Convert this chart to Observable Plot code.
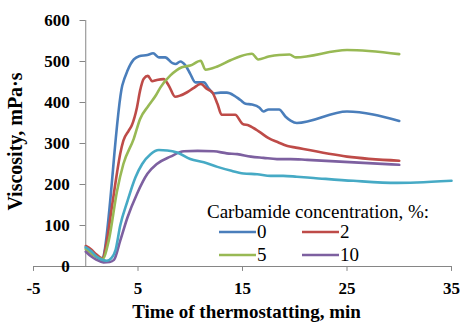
<!DOCTYPE html>
<html>
<head>
<meta charset="utf-8">
<script src="https://cdn.jsdelivr.net/npm/d3@7"></script>
<script src="https://cdn.jsdelivr.net/npm/@observablehq/plot@0.6"></script>
<style>
  html, body { margin: 0; padding: 0; background: #fff; }
  #chart { width: 461px; height: 324px; }
</style>
</head>
<body>
<div id="chart"></div>
<script>
// ---- data (time, min ; viscosity, mPa·s) ----
const conc0 = [[0,45],[0.5,35],[1.0,25],[1.5,18],[3.5,442],[4.0,478],[4.6,505],[5.1,513],[5.9,516],[6.45,520],[7.0,510],[7.6,510],[8.3,496],[8.6,494],[9.05,500],[9.55,490],[10.0,470],[10.5,449],[11.3,449],[11.8,433],[12.25,422],[12.9,424],[13.5,424],[14.2,417],[14.8,406],[15.3,397],[15.9,395],[16.6,388],[17.0,378],[17.5,383],[18.5,383],[19.1,366],[19.6,356],[20.2,350],[25,378],[30,355]];
const conc2 = [[0,50],[0.5,42],[1.0,30],[1.6,20],[2.0,60],[2.5,145],[3.0,230],[3.3,275],[3.6,307],[4.1,331],[4.4,344],[4.9,388],[5.2,429],[5.55,458],[5.95,465],[6.35,452],[6.8,455],[7.45,457],[7.95,441],[8.55,414],[9.05,417],[9.7,425],[10.3,435],[11.0,445],[11.6,433],[12.1,425],[12.6,397],[13.0,370],[14.3,370],[15.0,348],[15.6,344],[16.7,327],[17.5,313],[18.4,303],[19.3,294],[20.1,290],[25,268],[30,258]];
const conc5 = [[0,42],[0.6,30],[1.6,18],[2.2,63],[3.0,185],[3.6,250],[4.6,312],[5.2,360],[6.0,392],[6.7,417],[7.15,437],[8.1,466],[9.2,486],[10.0,490],[11.0,502],[11.45,480],[12.6,488],[13.85,503],[14.8,513],[15.9,519],[16.5,505],[17.5,512],[18.5,516],[19.5,517],[20.1,510],[25,528],[30,518]];
const conc10 = [[0,36],[0.5,25],[1.0,17],[1.7,10],[2.3,11],[2.7,16],[3.3,63],[4.0,120],[4.9,177],[5.9,226],[6.8,250],[8.1,268],[9.4,281],[10.7,282],[12.25,281],[13.5,276],[14.5,274],[15.8,268],[17.0,265],[18.3,262],[19.6,262],[21.2,260],[30,248]];
const concUnlabelled = [[0,47],[0.5,38],[1.0,25],[1.5,17],[2.0,14],[2.5,22],[2.85,40],[3.3,100],[4.0,160],[4.75,217],[5.4,250],[6.2,274],[7.0,284],[7.8,283],[8.75,278],[10.0,262],[11.3,254],[12.6,243],[13.85,234],[15.1,227],[16.4,225],[17.7,221],[18.9,221],[20.2,219],[21.8,216],[25.6,209],[29.8,204],[31.7,205],[35,209]];

const seriesNames = ["0", "2", "5", "10", ""];
const seriesColors = ["#4a7ebb", "#be4b48", "#98b954", "#7d60a0", "#46aac5"];
const seriesData = [conc0, conc2, conc5, conc10, concUnlabelled];

const xTicks = [-5, 5, 15, 25, 35];
const yTicks = [0, 100, 200, 300, 400, 500, 600];
const xLabel = "Time of thermostatting, min";
const yLabel = "Viscosity, mPa·s";
const legendTitle = "Carbamide concentration, %:";

// ---- table ----
const rows = seriesData.flatMap((s, i) => s.map(([t, v]) => ({t, v, k: i})));

const axisColor = "#868686";
const serif = "Liberation Serif, Times New Roman, serif";

const plot = Plot.plot({
  width: 461,
  height: 324,
  marginLeft: 33,
  marginRight: 10,
  marginTop: 20,
  marginBottom: 58,
  x: {domain: [-5, 35], axis: null},
  y: {domain: [0, 600], axis: null},
  style: {fontFamily: serif, background: "white"},
  marks: [
    Plot.ruleX([0], {y1: 0, y2: 600, stroke: axisColor, strokeWidth: 1}),
    Plot.ruleY(yTicks, {x1: -0.55, x2: 0, stroke: axisColor, strokeWidth: 1}),
    Plot.ruleY([0], {x1: -5, x2: 35, stroke: axisColor, strokeWidth: 1}),
    Plot.ruleX(xTicks, {y1: 0, y2: -12, stroke: axisColor, strokeWidth: 1}),
    Plot.text(yTicks, {x: 0, y: d => d, text: d => String(d), dx: -16, textAnchor: "end",
      fontFamily: serif, fontSize: 17, fontWeight: "bold", fill: "black"}),
    Plot.text(xTicks, {x: d => d, y: 0, text: d => String(d), dy: 22, textAnchor: "middle",
      fontFamily: serif, fontSize: 17, fontWeight: "bold", fill: "black"}),
    Plot.line(rows, {x: "t", y: "v", z: "k", stroke: d => seriesColors[d.k],
      strokeWidth: 2.6, curve: "monotone-x", strokeLinejoin: "round"}),
    Plot.text([xLabel], {frameAnchor: "bottom", text: d => d, dy: 51, dx: 4, textAnchor: "middle",
      fontFamily: serif, fontSize: 19, fontWeight: "bold", fill: "black"}),
    Plot.text([yLabel], {frameAnchor: "left", text: d => d, rotate: -90, dx: -18, dy: -2, textAnchor: "middle",
      fontFamily: serif, fontSize: 20, fontWeight: "bold", fill: "black"})
  ]
});

document.getElementById("chart").appendChild(plot);

// ---- legend (inside plot area) ----
const svg = d3.select(plot);
const lg = svg.append("g").attr("font-family", serif).attr("font-size", 19)
  .attr("fill", "black").attr("text-anchor", "start");
lg.append("text").attr("x", 207).attr("y", 218).text(legendTitle);
const legendPos = [[219, 232], [302, 232], [219, 255], [302, 255]];
for (let i = 0; i < 4; i++) {
  const [lx, ly] = legendPos[i];
  lg.append("line").attr("x1", lx).attr("x2", lx + 37).attr("y1", ly).attr("y2", ly)
    .attr("stroke", seriesColors[i]).attr("stroke-width", 2.6);
  lg.append("text").attr("x", lx + 38).attr("y", ly + 6).text(seriesNames[i]);
}
</script>
</body>
</html>
